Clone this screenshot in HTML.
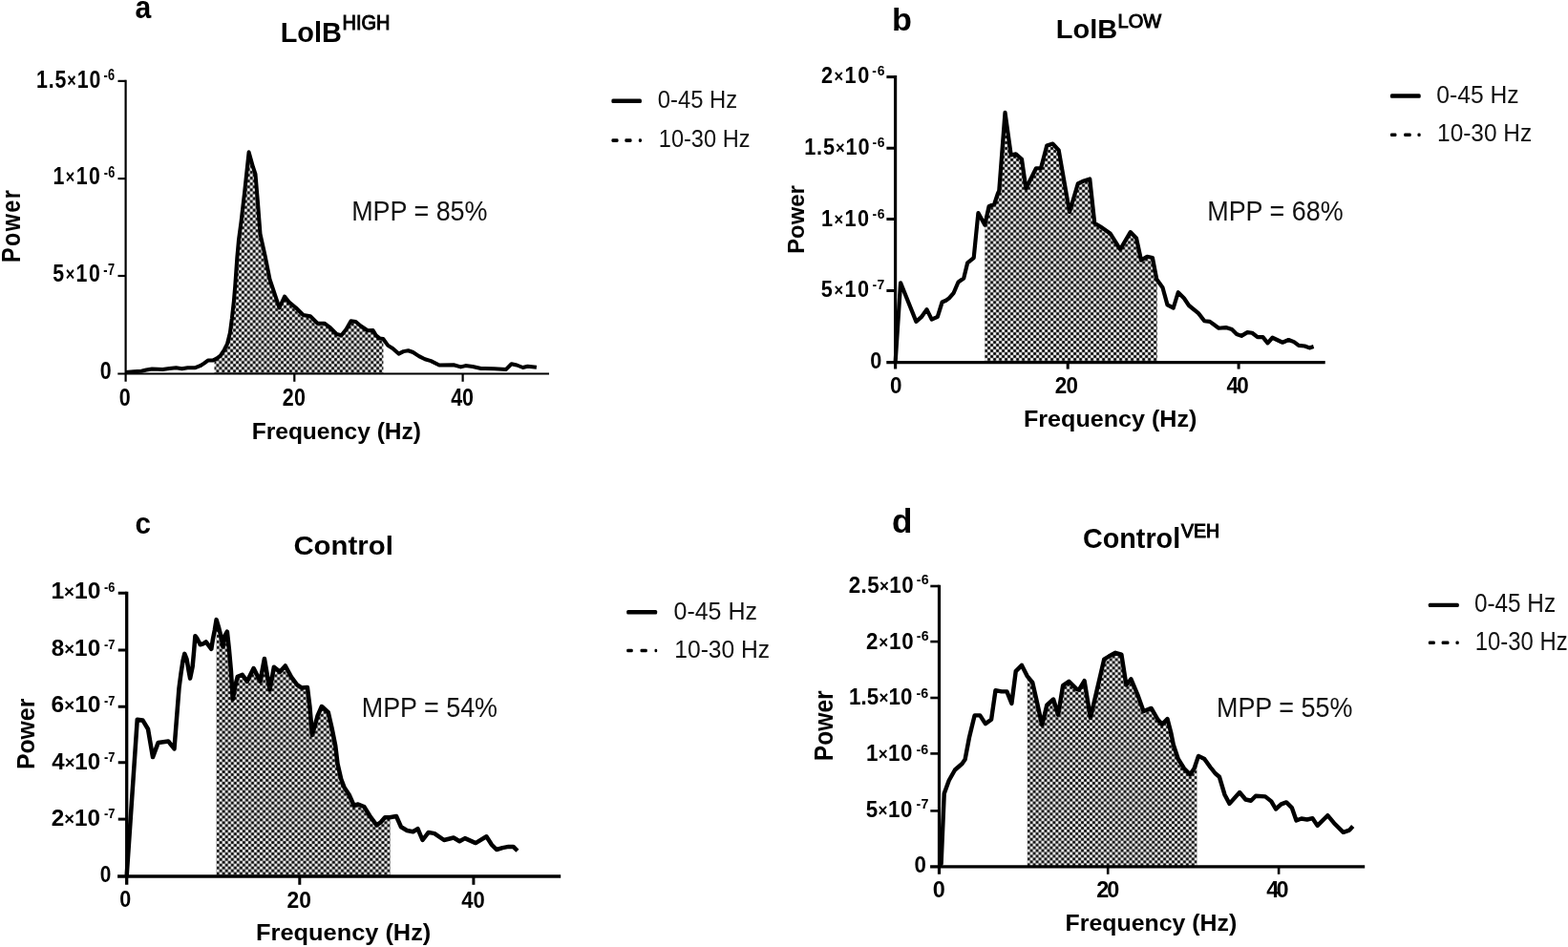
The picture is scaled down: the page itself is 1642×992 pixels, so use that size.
<!DOCTYPE html>
<html><head><meta charset="utf-8"><title>Power spectra</title>
<style>
html,body{margin:0;padding:0;background:#fff;}
body{width:1642px;height:992px;overflow:hidden;}
svg{display:block;}
text{font-family:"Liberation Sans",Arial,sans-serif;white-space:pre;}
</style></head><body>
<svg width="1642" height="992" viewBox="0 0 1642 992">
<defs>
<radialGradient id="gw"><stop offset="0" stop-color="#fff" stop-opacity="1"/><stop offset="0.45" stop-color="#fff" stop-opacity="0.95"/><stop offset="1" stop-color="#fff" stop-opacity="0"/></radialGradient>
<radialGradient id="gb"><stop offset="0" stop-color="#000" stop-opacity="1"/><stop offset="0.45" stop-color="#000" stop-opacity="0.95"/><stop offset="1" stop-color="#000" stop-opacity="0"/></radialGradient>
<pattern id="chka" patternUnits="userSpaceOnUse" x="299.979" y="362.768" width="5.884" height="6.128"><rect width="5.884" height="6.128" fill="#808080"/><ellipse cx="1.471" cy="1.532" rx="1.883" ry="1.961" fill="url(#gw)"/><ellipse cx="1.471" cy="7.660" rx="1.883" ry="1.961" fill="url(#gw)"/><ellipse cx="7.355" cy="1.532" rx="1.883" ry="1.961" fill="url(#gw)"/><ellipse cx="7.355" cy="7.660" rx="1.883" ry="1.961" fill="url(#gw)"/><ellipse cx="-1.471" cy="-1.532" rx="1.883" ry="1.961" fill="url(#gw)"/><ellipse cx="-1.471" cy="4.596" rx="1.883" ry="1.961" fill="url(#gw)"/><ellipse cx="4.413" cy="-1.532" rx="1.883" ry="1.961" fill="url(#gw)"/><ellipse cx="4.413" cy="4.596" rx="1.883" ry="1.961" fill="url(#gw)"/><ellipse cx="-1.471" cy="1.532" rx="1.883" ry="1.961" fill="url(#gb)"/><ellipse cx="-1.471" cy="7.660" rx="1.883" ry="1.961" fill="url(#gb)"/><ellipse cx="4.413" cy="1.532" rx="1.883" ry="1.961" fill="url(#gb)"/><ellipse cx="4.413" cy="7.660" rx="1.883" ry="1.961" fill="url(#gb)"/><ellipse cx="1.471" cy="-1.532" rx="1.883" ry="1.961" fill="url(#gb)"/><ellipse cx="1.471" cy="4.596" rx="1.883" ry="1.961" fill="url(#gb)"/><ellipse cx="7.355" cy="-1.532" rx="1.883" ry="1.961" fill="url(#gb)"/><ellipse cx="7.355" cy="4.596" rx="1.883" ry="1.961" fill="url(#gb)"/></pattern>
<pattern id="chkb" patternUnits="userSpaceOnUse" x="1100.100" y="300.307" width="6.000" height="5.972"><rect width="6.000" height="5.972" fill="#808080"/><ellipse cx="1.500" cy="1.493" rx="1.920" ry="1.911" fill="url(#gw)"/><ellipse cx="1.500" cy="7.465" rx="1.920" ry="1.911" fill="url(#gw)"/><ellipse cx="7.500" cy="1.493" rx="1.920" ry="1.911" fill="url(#gw)"/><ellipse cx="7.500" cy="7.465" rx="1.920" ry="1.911" fill="url(#gw)"/><ellipse cx="-1.500" cy="-1.493" rx="1.920" ry="1.911" fill="url(#gw)"/><ellipse cx="-1.500" cy="4.479" rx="1.920" ry="1.911" fill="url(#gw)"/><ellipse cx="4.500" cy="-1.493" rx="1.920" ry="1.911" fill="url(#gw)"/><ellipse cx="4.500" cy="4.479" rx="1.920" ry="1.911" fill="url(#gw)"/><ellipse cx="-1.500" cy="1.493" rx="1.920" ry="1.911" fill="url(#gb)"/><ellipse cx="-1.500" cy="7.465" rx="1.920" ry="1.911" fill="url(#gb)"/><ellipse cx="4.500" cy="1.493" rx="1.920" ry="1.911" fill="url(#gb)"/><ellipse cx="4.500" cy="7.465" rx="1.920" ry="1.911" fill="url(#gb)"/><ellipse cx="1.500" cy="-1.493" rx="1.920" ry="1.911" fill="url(#gb)"/><ellipse cx="1.500" cy="4.479" rx="1.920" ry="1.911" fill="url(#gb)"/><ellipse cx="7.500" cy="-1.493" rx="1.920" ry="1.911" fill="url(#gb)"/><ellipse cx="7.500" cy="4.479" rx="1.920" ry="1.911" fill="url(#gb)"/></pattern>
<pattern id="chkc" patternUnits="userSpaceOnUse" x="302.385" y="860.320" width="6.060" height="5.920"><rect width="6.060" height="5.920" fill="#808080"/><ellipse cx="1.515" cy="1.480" rx="1.939" ry="1.894" fill="url(#gw)"/><ellipse cx="1.515" cy="7.400" rx="1.939" ry="1.894" fill="url(#gw)"/><ellipse cx="7.575" cy="1.480" rx="1.939" ry="1.894" fill="url(#gw)"/><ellipse cx="7.575" cy="7.400" rx="1.939" ry="1.894" fill="url(#gw)"/><ellipse cx="-1.515" cy="-1.480" rx="1.939" ry="1.894" fill="url(#gw)"/><ellipse cx="-1.515" cy="4.440" rx="1.939" ry="1.894" fill="url(#gw)"/><ellipse cx="4.545" cy="-1.480" rx="1.939" ry="1.894" fill="url(#gw)"/><ellipse cx="4.545" cy="4.440" rx="1.939" ry="1.894" fill="url(#gw)"/><ellipse cx="-1.515" cy="1.480" rx="1.939" ry="1.894" fill="url(#gb)"/><ellipse cx="-1.515" cy="7.400" rx="1.939" ry="1.894" fill="url(#gb)"/><ellipse cx="4.545" cy="1.480" rx="1.939" ry="1.894" fill="url(#gb)"/><ellipse cx="4.545" cy="7.400" rx="1.939" ry="1.894" fill="url(#gb)"/><ellipse cx="1.515" cy="-1.480" rx="1.939" ry="1.894" fill="url(#gb)"/><ellipse cx="1.515" cy="4.440" rx="1.939" ry="1.894" fill="url(#gb)"/><ellipse cx="7.575" cy="-1.480" rx="1.939" ry="1.894" fill="url(#gb)"/><ellipse cx="7.575" cy="4.440" rx="1.939" ry="1.894" fill="url(#gb)"/></pattern>
<pattern id="chkd" patternUnits="userSpaceOnUse" x="1152.816" y="860.129" width="5.936" height="5.884"><rect width="5.936" height="5.884" fill="#808080"/><ellipse cx="1.484" cy="1.471" rx="1.900" ry="1.883" fill="url(#gw)"/><ellipse cx="1.484" cy="7.355" rx="1.900" ry="1.883" fill="url(#gw)"/><ellipse cx="7.420" cy="1.471" rx="1.900" ry="1.883" fill="url(#gw)"/><ellipse cx="7.420" cy="7.355" rx="1.900" ry="1.883" fill="url(#gw)"/><ellipse cx="-1.484" cy="-1.471" rx="1.900" ry="1.883" fill="url(#gw)"/><ellipse cx="-1.484" cy="4.413" rx="1.900" ry="1.883" fill="url(#gw)"/><ellipse cx="4.452" cy="-1.471" rx="1.900" ry="1.883" fill="url(#gw)"/><ellipse cx="4.452" cy="4.413" rx="1.900" ry="1.883" fill="url(#gw)"/><ellipse cx="-1.484" cy="1.471" rx="1.900" ry="1.883" fill="url(#gb)"/><ellipse cx="-1.484" cy="7.355" rx="1.900" ry="1.883" fill="url(#gb)"/><ellipse cx="4.452" cy="1.471" rx="1.900" ry="1.883" fill="url(#gb)"/><ellipse cx="4.452" cy="7.355" rx="1.900" ry="1.883" fill="url(#gb)"/><ellipse cx="1.484" cy="-1.471" rx="1.900" ry="1.883" fill="url(#gb)"/><ellipse cx="1.484" cy="4.413" rx="1.900" ry="1.883" fill="url(#gb)"/><ellipse cx="7.420" cy="-1.471" rx="1.900" ry="1.883" fill="url(#gb)"/><ellipse cx="7.420" cy="4.413" rx="1.900" ry="1.883" fill="url(#gb)"/></pattern>
<clipPath id="clipa"><rect x="224.5" y="0" width="176.9" height="391.5"/></clipPath>
<clipPath id="clipb"><rect x="1031.25" y="0" width="180.65" height="379.6"/></clipPath>
<clipPath id="clipc"><rect x="226.6" y="0" width="182.1" height="918"/></clipPath>
<clipPath id="clipd"><rect x="1075.8" y="0" width="177.7" height="907.8"/></clipPath>
<filter id="pblur" x="-2%" y="-2%" width="104%" height="104%"><feGaussianBlur stdDeviation="0.75"/></filter>
</defs>
<rect width="1642" height="992" fill="#fff"/>
<polygon points="131.6,390 140.1,389.2 148.1,388.7 153.2,387.5 159.2,386.5 165.3,386.7 170.3,386.9 177.4,385.9 184.4,385.2 190.5,386.2 196.5,385.2 204.6,385.2 209.6,383.2 213.7,380.6 217.7,377.6 222.7,377.6 226.8,375.6 230.8,372.6 234.8,366.5 237.9,360.5 240.9,348.4 242.9,333.3 244.9,315.1 246.2,300 248.3,270 250,251 252.5,232.5 256.25,200 260.6,159.2 265,175 267.5,182.5 270,212.5 272.5,245 277.5,267.5 282.5,292.5 287.5,307.5 292.5,322.5 298,310.5 302.5,316.25 310,322.5 317.5,330 325,331.25 332.5,338.75 340,338.75 345,342.5 352.5,350 357.5,351.25 362.5,345 367.5,336.25 372.5,337 377.5,341.25 385,346.25 390.6,346 393.75,351.25 397.5,354.4 401.25,355 406.25,361.9 411.25,365 417.5,370.6 422.5,368.1 427.5,367.25 432.5,369 438.75,373.1 445,376.25 451.25,378.1 460,382.5 475,382.25 482.5,384.4 487.5,383.1 495,384 503.75,386 517.5,386.25 530,386.9 535.6,381.25 541.25,382.5 547.5,385 552.5,383.75 561.9,384.75 561.9,391.5 131.6,391.5" fill="url(#chka)" clip-path="url(#clipa)"/>
<g stroke="#000" fill="none" stroke-linecap="butt">
<line x1="131.6" y1="83.8" x2="131.6" y2="399.8" stroke-width="2.2"/>
<line x1="123.3" y1="391.5" x2="575" y2="391.5" stroke-width="2.2"/>
<line x1="123.5" y1="84.9" x2="131.6" y2="84.9" stroke-width="2.2"/>
<line x1="123.5" y1="187.1" x2="131.6" y2="187.1" stroke-width="2.2"/>
<line x1="123.5" y1="289" x2="131.6" y2="289" stroke-width="2.2"/>
<line x1="308.3" y1="391.5" x2="308.3" y2="399.8" stroke-width="2.2"/>
<line x1="484.6" y1="391.5" x2="484.6" y2="399.8" stroke-width="2.2"/>
</g>
<polyline points="131.6,390 140.1,389.2 148.1,388.7 153.2,387.5 159.2,386.5 165.3,386.7 170.3,386.9 177.4,385.9 184.4,385.2 190.5,386.2 196.5,385.2 204.6,385.2 209.6,383.2 213.7,380.6 217.7,377.6 222.7,377.6 226.8,375.6 230.8,372.6 234.8,366.5 237.9,360.5 240.9,348.4 242.9,333.3 244.9,315.1 246.2,300 248.3,270 250,251 252.5,232.5 256.25,200 260.6,159.2 265,175 267.5,182.5 270,212.5 272.5,245 277.5,267.5 282.5,292.5 287.5,307.5 292.5,322.5 298,310.5 302.5,316.25 310,322.5 317.5,330 325,331.25 332.5,338.75 340,338.75 345,342.5 352.5,350 357.5,351.25 362.5,345 367.5,336.25 372.5,337 377.5,341.25 385,346.25 390.6,346 393.75,351.25 397.5,354.4 401.25,355 406.25,361.9 411.25,365 417.5,370.6 422.5,368.1 427.5,367.25 432.5,369 438.75,373.1 445,376.25 451.25,378.1 460,382.5 475,382.25 482.5,384.4 487.5,383.1 495,384 503.75,386 517.5,386.25 530,386.9 535.6,381.25 541.25,382.5 547.5,385 552.5,383.75 561.9,384.75" fill="none" stroke="#000" stroke-width="4.0" stroke-linejoin="round"/>
<polygon points="937.6,379.5 943.1,296.25 959.4,336.9 964.8,332.2 970.5,324.1 975.7,334.6 981.8,331.8 986.6,316.5 990.6,314.8 993.9,312.4 998.7,306.8 1003.5,295.5 1009.2,291.5 1013.2,275.3 1019.7,270.1 1024.4,223.1 1031.25,235.6 1035.6,216.25 1041.25,213.75 1045,202.5 1046.25,200 1052.5,117.8 1058.75,162.5 1063.75,161.25 1070,166.9 1074.4,197.5 1085,176.25 1090,176.25 1096.25,152.5 1102.5,150.6 1108.75,157.5 1120,222 1128.75,192.5 1135,189.4 1141.25,187.5 1146.25,233.75 1152.5,237.5 1162.5,244.4 1173.1,261.25 1183.75,243.1 1190,249.4 1195,272.5 1201.25,268.75 1206.9,270 1211.25,292.5 1217.5,301.25 1222.5,319.4 1228.75,322.5 1233.75,306.25 1240,312.5 1245,320 1255,328.1 1261.25,336.25 1266.9,336.9 1276.25,343.75 1283.75,343.1 1290,345 1295,350 1300,351.9 1306.25,348.1 1311.25,348.75 1316.9,353.1 1322.5,353.1 1327.5,359.4 1332.5,353.75 1343.1,358.75 1349.4,356 1355,358.1 1360,361.9 1366.25,362.5 1371.25,364.4 1375.6,363.1 1375.6,379.6 937.6,379.6" fill="url(#chkb)" clip-path="url(#clipb)"/>
<g stroke="#000" fill="none" stroke-linecap="butt">
<line x1="937.6" y1="79.1" x2="937.6" y2="386.6" stroke-width="3.2"/>
<line x1="928.3" y1="379.6" x2="1387.7" y2="379.6" stroke-width="3.2"/>
<line x1="928.4" y1="80.6" x2="937.6" y2="80.6" stroke-width="3.0"/>
<line x1="928.4" y1="155.2" x2="937.6" y2="155.2" stroke-width="3.0"/>
<line x1="928.4" y1="229.5" x2="937.6" y2="229.5" stroke-width="3.0"/>
<line x1="928.4" y1="304.5" x2="937.6" y2="304.5" stroke-width="3.0"/>
<line x1="1118.2" y1="379.6" x2="1118.2" y2="386.6" stroke-width="3.0"/>
<line x1="1297.1" y1="379.6" x2="1297.1" y2="386.6" stroke-width="3.0"/>
</g>
<polyline points="937.6,379.5 943.1,296.25 959.4,336.9 964.8,332.2 970.5,324.1 975.7,334.6 981.8,331.8 986.6,316.5 990.6,314.8 993.9,312.4 998.7,306.8 1003.5,295.5 1009.2,291.5 1013.2,275.3 1019.7,270.1 1024.4,223.1 1031.25,235.6 1035.6,216.25 1041.25,213.75 1045,202.5 1046.25,200 1052.5,117.8 1058.75,162.5 1063.75,161.25 1070,166.9 1074.4,197.5 1085,176.25 1090,176.25 1096.25,152.5 1102.5,150.6 1108.75,157.5 1120,222 1128.75,192.5 1135,189.4 1141.25,187.5 1146.25,233.75 1152.5,237.5 1162.5,244.4 1173.1,261.25 1183.75,243.1 1190,249.4 1195,272.5 1201.25,268.75 1206.9,270 1211.25,292.5 1217.5,301.25 1222.5,319.4 1228.75,322.5 1233.75,306.25 1240,312.5 1245,320 1255,328.1 1261.25,336.25 1266.9,336.9 1276.25,343.75 1283.75,343.1 1290,345 1295,350 1300,351.9 1306.25,348.1 1311.25,348.75 1316.9,353.1 1322.5,353.1 1327.5,359.4 1332.5,353.75 1343.1,358.75 1349.4,356 1355,358.1 1360,361.9 1366.25,362.5 1371.25,364.4 1375.6,363.1" fill="none" stroke="#000" stroke-width="4.2" stroke-linejoin="round"/>
<polygon points="132.7,917 143.75,753.75 149.4,754.4 155,763.75 160,793.1 165.6,778.1 176.25,776.5 182.5,784.4 186,739.8 187.5,720.7 189.5,705.5 191.5,692.4 193.3,684.9 195.5,690.4 197.6,702.5 199.1,710.6 201.6,698.5 203.1,682.4 204.4,666.2 206.6,669.2 209.7,675.3 212.7,674.3 215.7,672.3 218.7,676.3 221.3,679.8 222.8,670.3 224.8,660.2 226.6,649.1 229.3,658.2 231.3,666.2 233.4,677.3 235.4,666.2 237.9,661.7 239.9,680.3 241.9,702.5 243.75,732.5 246.25,718.75 248.75,708.75 253.75,706.9 258.75,713.75 265.6,700 272.5,713.75 276.9,690 282.5,722.5 286.9,698.75 293.1,703.75 298.75,697.5 305,709 311.25,717.5 316.25,720.6 321.9,720 324.4,740 326.9,770 332.5,750 336.9,740 343.75,746.25 347.5,762.5 351.25,781.25 353.5,800 357.2,816 360.6,825 365.6,832.5 370.6,843.75 375,842.5 381.25,845 387.5,855 394.4,864.4 398.75,861.25 403.1,856.25 408.1,856.25 415,855 420,866.25 426.25,870 432.5,871.25 437.5,868.1 442.5,880 448.75,871.9 455,873.1 465,880 475,877.5 481.25,881.25 486.9,878.1 498.1,883.1 509.4,876.25 515,885 520,890 526.25,888.1 532.5,886.9 537.5,886.9 541.9,891.25 541.9,918 132.7,918" fill="url(#chkc)" clip-path="url(#clipc)"/>
<g stroke="#000" fill="none" stroke-linecap="butt">
<line x1="132.7" y1="619.75" x2="132.7" y2="926.8" stroke-width="3.3"/>
<line x1="123.1" y1="918" x2="587.2" y2="918" stroke-width="3.3"/>
<line x1="123.75" y1="621.25" x2="132.7" y2="621.25" stroke-width="3.0"/>
<line x1="123.75" y1="681" x2="132.7" y2="681" stroke-width="3.0"/>
<line x1="123.75" y1="740.25" x2="132.7" y2="740.25" stroke-width="3.0"/>
<line x1="123.75" y1="798.75" x2="132.7" y2="798.75" stroke-width="3.0"/>
<line x1="123.75" y1="858.1" x2="132.7" y2="858.1" stroke-width="3.0"/>
<line x1="313.8" y1="918" x2="313.8" y2="926.8" stroke-width="3.0"/>
<line x1="495.9" y1="918" x2="495.9" y2="926.8" stroke-width="3.0"/>
</g>
<polyline points="132.7,917 143.75,753.75 149.4,754.4 155,763.75 160,793.1 165.6,778.1 176.25,776.5 182.5,784.4 186,739.8 187.5,720.7 189.5,705.5 191.5,692.4 193.3,684.9 195.5,690.4 197.6,702.5 199.1,710.6 201.6,698.5 203.1,682.4 204.4,666.2 206.6,669.2 209.7,675.3 212.7,674.3 215.7,672.3 218.7,676.3 221.3,679.8 222.8,670.3 224.8,660.2 226.6,649.1 229.3,658.2 231.3,666.2 233.4,677.3 235.4,666.2 237.9,661.7 239.9,680.3 241.9,702.5 243.75,732.5 246.25,718.75 248.75,708.75 253.75,706.9 258.75,713.75 265.6,700 272.5,713.75 276.9,690 282.5,722.5 286.9,698.75 293.1,703.75 298.75,697.5 305,709 311.25,717.5 316.25,720.6 321.9,720 324.4,740 326.9,770 332.5,750 336.9,740 343.75,746.25 347.5,762.5 351.25,781.25 353.5,800 357.2,816 360.6,825 365.6,832.5 370.6,843.75 375,842.5 381.25,845 387.5,855 394.4,864.4 398.75,861.25 403.1,856.25 408.1,856.25 415,855 420,866.25 426.25,870 432.5,871.25 437.5,868.1 442.5,880 448.75,871.9 455,873.1 465,880 475,877.5 481.25,881.25 486.9,878.1 498.1,883.1 509.4,876.25 515,885 520,890 526.25,888.1 532.5,886.9 537.5,886.9 541.9,891.25" fill="none" stroke="#000" stroke-width="4.5" stroke-linejoin="round"/>
<polygon points="983.5,907 985.6,905 988.75,831.25 993.75,817.5 1000,806.5 1007.5,800 1010.6,795.6 1015,772.5 1020.6,749.4 1026.25,749.4 1031.9,758.1 1038.1,753.75 1042.5,723.1 1048.75,724.4 1054.4,724.4 1059.4,736.9 1063.75,703.1 1070,696.9 1075.6,708.1 1081.25,715 1085,731.25 1091.25,759.4 1096.25,738.75 1103.1,732.5 1108.1,748.75 1113.1,718.1 1119.4,713.75 1127.5,721.9 1130,722.5 1135.6,713.1 1141.9,751.9 1156.25,690.6 1161.25,687.5 1168.1,683.75 1174.4,685.6 1179.4,717.5 1184.4,711.25 1191.25,727.5 1197.5,745 1205.6,741.9 1212.5,753.75 1216.9,758.75 1222.5,753.1 1226.25,767.5 1228.75,780 1233.75,795 1240,805 1246.25,811.25 1250.6,805 1255,791.9 1261.25,795 1267.5,803.75 1272.5,810 1276.9,813.75 1282.5,832.5 1287.5,841.9 1298.1,830 1304.4,837.5 1310,838.75 1315,833.75 1325,834.4 1331.25,839.4 1336,847.5 1341.7,842.4 1347.1,840.4 1352.8,846.1 1357.5,859.5 1362.8,857.5 1368.8,858.5 1374.5,857.2 1379.6,864.9 1390.3,854.2 1397,862.2 1406.7,871.9 1413.1,869.6 1416.7,865.5 1416.7,907.8 983.5,907.8" fill="url(#chkd)" clip-path="url(#clipd)"/>
<g stroke="#000" fill="none" stroke-linecap="butt">
<line x1="983.5" y1="612.7" x2="983.5" y2="915.8" stroke-width="3.2"/>
<line x1="974.1" y1="907.8" x2="1429.2" y2="907.8" stroke-width="3.2"/>
<line x1="974.3" y1="614" x2="983.5" y2="614" stroke-width="2.6"/>
<line x1="974.3" y1="672.1" x2="983.5" y2="672.1" stroke-width="2.6"/>
<line x1="974.3" y1="731" x2="983.5" y2="731" stroke-width="2.6"/>
<line x1="974.3" y1="789.4" x2="983.5" y2="789.4" stroke-width="2.6"/>
<line x1="974.3" y1="849.4" x2="983.5" y2="849.4" stroke-width="2.6"/>
<line x1="1160.2" y1="907.8" x2="1160.2" y2="915.8" stroke-width="2.6"/>
<line x1="1339.1" y1="907.8" x2="1339.1" y2="915.8" stroke-width="2.6"/>
</g>
<polyline points="983.5,907 985.6,905 988.75,831.25 993.75,817.5 1000,806.5 1007.5,800 1010.6,795.6 1015,772.5 1020.6,749.4 1026.25,749.4 1031.9,758.1 1038.1,753.75 1042.5,723.1 1048.75,724.4 1054.4,724.4 1059.4,736.9 1063.75,703.1 1070,696.9 1075.6,708.1 1081.25,715 1085,731.25 1091.25,759.4 1096.25,738.75 1103.1,732.5 1108.1,748.75 1113.1,718.1 1119.4,713.75 1127.5,721.9 1130,722.5 1135.6,713.1 1141.9,751.9 1156.25,690.6 1161.25,687.5 1168.1,683.75 1174.4,685.6 1179.4,717.5 1184.4,711.25 1191.25,727.5 1197.5,745 1205.6,741.9 1212.5,753.75 1216.9,758.75 1222.5,753.1 1226.25,767.5 1228.75,780 1233.75,795 1240,805 1246.25,811.25 1250.6,805 1255,791.9 1261.25,795 1267.5,803.75 1272.5,810 1276.9,813.75 1282.5,832.5 1287.5,841.9 1298.1,830 1304.4,837.5 1310,838.75 1315,833.75 1325,834.4 1331.25,839.4 1336,847.5 1341.7,842.4 1347.1,840.4 1352.8,846.1 1357.5,859.5 1362.8,857.5 1368.8,858.5 1374.5,857.2 1379.6,864.9 1390.3,854.2 1397,862.2 1406.7,871.9 1413.1,869.6 1416.7,865.5" fill="none" stroke="#000" stroke-width="4.4" stroke-linejoin="round"/>
<rect x="640.4" y="103.6" width="31.5" height="4.4" rx="1.5" fill="#000"/>
<rect x="640.4" y="145.3" width="7.2" height="3.6" rx="1.4" fill="#000"/>
<rect x="654.3" y="145.3" width="7.3" height="3.6" rx="1.4" fill="#000"/>
<rect x="668.8" y="145.3" width="3.2" height="3.6" rx="1.4" fill="#000"/>
<rect x="1455.9" y="98.3" width="31.8" height="4.4" rx="1.5" fill="#000"/>
<rect x="1455.9" y="139.5" width="6.6" height="3.6" rx="1.4" fill="#000"/>
<rect x="1470.1" y="139.5" width="7.7" height="3.6" rx="1.4" fill="#000"/>
<rect x="1484.4" y="139.5" width="3.3" height="3.6" rx="1.4" fill="#000"/>
<rect x="656.2" y="639.1" width="32" height="4.4" rx="1.5" fill="#000"/>
<rect x="656.2" y="679.7" width="6.6" height="3.6" rx="1.4" fill="#000"/>
<rect x="670.5" y="679.7" width="7.3" height="3.6" rx="1.4" fill="#000"/>
<rect x="685.5" y="679.7" width="2.7" height="3.6" rx="1.4" fill="#000"/>
<rect x="1495.8" y="631.7" width="32" height="4.4" rx="1.5" fill="#000"/>
<rect x="1495.8" y="671.5" width="7.1" height="3.6" rx="1.4" fill="#000"/>
<rect x="1509.6" y="671.5" width="7.9" height="3.6" rx="1.4" fill="#000"/>
<rect x="1524.4" y="671.5" width="3.4" height="3.6" rx="1.4" fill="#000"/>
<text id="a_lbl" transform="translate(141.4 19)" font-size="33.33" font-weight="bold" textLength="16.73" lengthAdjust="spacingAndGlyphs">a</text>
<text id="a_t1" transform="translate(293.66 44)" font-size="30.01" font-weight="bold" textLength="64.21" lengthAdjust="spacingAndGlyphs">LolB</text>
<text id="a_t2" transform="translate(358.52 31.45)" font-size="22.35" stroke="#000" stroke-width="1.0" textLength="50.01" lengthAdjust="spacingAndGlyphs">HIGH</text>
<text id="a_y1" transform="translate(38 92) scale(0.82 1)" font-size="26.02" font-weight="bold" textLength="82.02" lengthAdjust="spacing">1.5<tspan font-size="76%" dy="-1.1">×</tspan><tspan dy="1.1">10</tspan></text>
<text id="a_y1e" transform="translate(108.47 84.4) scale(0.82 1)" font-size="15.57" font-weight="bold" textLength="14.27" lengthAdjust="spacing">-6</text>
<text id="a_y2" transform="translate(55.44 193.4) scale(0.82 1)" font-size="26.02" font-weight="bold" textLength="60.29" lengthAdjust="spacing">1<tspan font-size="76%" dy="-1.1">×</tspan><tspan dy="1.1">10</tspan></text>
<text id="a_y2e" transform="translate(108.67 186) scale(0.82 1)" font-size="15.57" font-weight="bold" textLength="14.14" lengthAdjust="spacing">-6</text>
<text id="a_y3" transform="translate(55.28 295.2) scale(0.82 1)" font-size="26.02" font-weight="bold" textLength="60.43" lengthAdjust="spacing">5<tspan font-size="76%" dy="-1.1">×</tspan><tspan dy="1.1">10</tspan></text>
<text id="a_y3e" transform="translate(108.23 288) scale(0.82 1)" font-size="15.57" font-weight="bold" textLength="14.56" lengthAdjust="spacing">-7</text>
<text id="a_y4" transform="translate(104.84 397.2) scale(0.82 1)" font-size="26.02" font-weight="bold" textLength="22.27" lengthAdjust="spacing">0</text>
<text id="a_x0" transform="translate(124.85 424.6) scale(0.82 1)" font-size="26.18" font-weight="bold" textLength="17.06" lengthAdjust="spacing">0</text>
<text id="a_x20" transform="translate(295.7 425) scale(0.82 1)" font-size="26.18" font-weight="bold" textLength="29.51" lengthAdjust="spacing">20</text>
<text id="a_x40" transform="translate(472.13 425) scale(0.82 1)" font-size="26.18" font-weight="bold" textLength="29.16" lengthAdjust="spacing">40</text>
<text id="a_xl" transform="translate(263.68 460.05)" font-size="23.62" font-weight="bold" textLength="177.32" lengthAdjust="spacingAndGlyphs">Frequency (Hz)</text>
<text id="a_yl" transform="translate(21 274.98) rotate(-90) scale(0.85 1)" font-size="27.48" font-weight="bold" textLength="89.18" lengthAdjust="spacing">Power</text>
<text id="a_mpp" transform="translate(368.14 231.4)" font-size="29.87" fill="#111" textLength="142.36" lengthAdjust="spacingAndGlyphs">MPP = 85%</text>
<text id="a_lg1" transform="translate(688.77 113.2)" font-size="26.43" fill="#111" textLength="83.26" lengthAdjust="spacingAndGlyphs">0-45 Hz</text>
<text id="a_lg2" transform="translate(689.8 154.4)" font-size="26.43" fill="#111" textLength="95.67" lengthAdjust="spacingAndGlyphs">10-30 Hz</text>
<text id="b_lbl" transform="translate(934 32)" font-size="33.92" font-weight="bold" textLength="20.91" lengthAdjust="spacingAndGlyphs">b</text>
<text id="b_t1" transform="translate(1105.8 40)" font-size="28.56" font-weight="bold" textLength="64.47" lengthAdjust="spacingAndGlyphs">LolB</text>
<text id="b_t2" transform="translate(1170.51 28.85)" font-size="20.09" stroke="#000" stroke-width="1.0" textLength="45.59" lengthAdjust="spacingAndGlyphs">LOW</text>
<text id="b_y1" transform="translate(859.99 87) scale(0.92 1)" font-size="23.61" font-weight="bold" textLength="54.61" lengthAdjust="spacing">2<tspan font-size="76%" dy="-1.1">×</tspan><tspan dy="1.1">10</tspan></text>
<text id="b_y1e" transform="translate(913.35 79) scale(0.92 1)" font-size="15.17" font-weight="bold" textLength="14.22" lengthAdjust="spacing">-6</text>
<text id="b_y2" transform="translate(842.16 162) scale(0.92 1)" font-size="23.61" font-weight="bold" textLength="74.37" lengthAdjust="spacing">1.5<tspan font-size="76%" dy="-1.1">×</tspan><tspan dy="1.1">10</tspan></text>
<text id="b_y2e" transform="translate(913.52 154) scale(0.92 1)" font-size="15.17" font-weight="bold" textLength="14.09" lengthAdjust="spacing">-6</text>
<text id="b_y3" transform="translate(860 237) scale(0.92 1)" font-size="23.61" font-weight="bold" textLength="54.56" lengthAdjust="spacing">1<tspan font-size="76%" dy="-1.1">×</tspan><tspan dy="1.1">10</tspan></text>
<text id="b_y3e" transform="translate(913.43 229) scale(0.92 1)" font-size="15.17" font-weight="bold" textLength="14.22" lengthAdjust="spacing">-6</text>
<text id="b_y4" transform="translate(859.84 311) scale(0.92 1)" font-size="23.61" font-weight="bold" textLength="54.65" lengthAdjust="spacing">5<tspan font-size="76%" dy="-1.1">×</tspan><tspan dy="1.1">10</tspan></text>
<text id="b_y4e" transform="translate(913.43 303) scale(0.92 1)" font-size="15.17" font-weight="bold" textLength="14.01" lengthAdjust="spacing">-7</text>
<text id="b_y5" transform="translate(911.35 386) scale(0.92 1)" font-size="23.61" font-weight="bold" textLength="28.62" lengthAdjust="spacing">0</text>
<text id="b_x0" transform="translate(931.88 412) scale(0.92 1)" font-size="24.43" font-weight="bold" textLength="4.23" lengthAdjust="spacing">0</text>
<text id="b_x20" transform="translate(1104.77 412) scale(0.92 1)" font-size="24.43" font-weight="bold" textLength="26.38" lengthAdjust="spacing">20</text>
<text id="b_x40" transform="translate(1284.62 412) scale(0.92 1)" font-size="24.43" font-weight="bold" textLength="25.11" lengthAdjust="spacing">40</text>
<text id="b_xl" transform="translate(1071.94 447.09)" font-size="23" font-weight="bold" textLength="181.48" lengthAdjust="spacingAndGlyphs">Frequency (Hz)</text>
<text id="b_yl" transform="translate(842 265.78) rotate(-90)" font-size="24.36" font-weight="bold" textLength="71.55" lengthAdjust="spacingAndGlyphs">Power</text>
<text id="b_mpp" transform="translate(1264.2 231)" font-size="28.79" fill="#111" textLength="142.43" lengthAdjust="spacingAndGlyphs">MPP = 68%</text>
<text id="b_lg1" transform="translate(1504.32 108.2)" font-size="26.48" fill="#111" textLength="86.22" lengthAdjust="spacingAndGlyphs">0-45 Hz</text>
<text id="b_lg2" transform="translate(1505.07 148.2)" font-size="26.48" fill="#111" textLength="99.06" lengthAdjust="spacingAndGlyphs">10-30 Hz</text>
<text id="c_lbl" transform="translate(141.43 559)" font-size="31.48" font-weight="bold" textLength="16.51" lengthAdjust="spacingAndGlyphs">c</text>
<text id="c_t1" transform="translate(307.41 581)" font-size="28" font-weight="bold" textLength="104.39" lengthAdjust="spacingAndGlyphs">Control</text>
<text id="c_y1" transform="translate(53.4 627.49)" font-size="23.3" font-weight="bold" textLength="52.05" lengthAdjust="spacingAndGlyphs">1<tspan font-size="76%" dy="-1.1">×</tspan><tspan dy="1.1">10</tspan></text>
<text id="c_y1e" transform="translate(109.04 619.62)" font-size="15.18" font-weight="bold" textLength="11.45" lengthAdjust="spacingAndGlyphs">-6</text>
<text id="c_y2" transform="translate(53.79 687.49)" font-size="23.3" font-weight="bold" textLength="51.4" lengthAdjust="spacingAndGlyphs">8<tspan font-size="76%" dy="-1.1">×</tspan><tspan dy="1.1">10</tspan></text>
<text id="c_y2e" transform="translate(108.98 679.69)" font-size="15.18" font-weight="bold" textLength="11.55" lengthAdjust="spacingAndGlyphs">-7</text>
<text id="c_y3" transform="translate(53.59 746.09)" font-size="23.3" font-weight="bold" textLength="51.97" lengthAdjust="spacingAndGlyphs">6<tspan font-size="76%" dy="-1.1">×</tspan><tspan dy="1.1">10</tspan></text>
<text id="c_y3e" transform="translate(109.03 738.89)" font-size="15.18" font-weight="bold" textLength="11.5" lengthAdjust="spacingAndGlyphs">-7</text>
<text id="c_y4" transform="translate(54.25 806.09)" font-size="23.3" font-weight="bold" textLength="50.93" lengthAdjust="spacingAndGlyphs">4<tspan font-size="76%" dy="-1.1">×</tspan><tspan dy="1.1">10</tspan></text>
<text id="c_y4e" transform="translate(109.04 797.69)" font-size="15.18" font-weight="bold" textLength="11.55" lengthAdjust="spacingAndGlyphs">-7</text>
<text id="c_y5" transform="translate(53.73 864.89)" font-size="23.3" font-weight="bold" textLength="51.42" lengthAdjust="spacingAndGlyphs">2<tspan font-size="76%" dy="-1.1">×</tspan><tspan dy="1.1">10</tspan></text>
<text id="c_y5e" transform="translate(109.04 857.49)" font-size="15.18" font-weight="bold" textLength="11.55" lengthAdjust="spacingAndGlyphs">-7</text>
<text id="c_y6" transform="translate(104.7 923.88)" font-size="23.3" font-weight="bold" textLength="11.59" lengthAdjust="spacingAndGlyphs">0</text>
<text id="c_x0" transform="translate(125.35 950.42)" font-size="23.1" font-weight="bold" textLength="11.98" lengthAdjust="spacingAndGlyphs">0</text>
<text id="c_x20" transform="translate(300.61 950.69)" font-size="23.1" font-weight="bold" textLength="25.36" lengthAdjust="spacingAndGlyphs">20</text>
<text id="c_x40" transform="translate(483.15 950.69)" font-size="23.1" font-weight="bold" textLength="24.46" lengthAdjust="spacingAndGlyphs">40</text>
<text id="c_xl" transform="translate(268.1 985.29)" font-size="23.3" font-weight="bold" textLength="183.17" lengthAdjust="spacingAndGlyphs">Frequency (Hz)</text>
<text id="c_yl" transform="translate(35.6 806) rotate(-90)" font-size="25.86" font-weight="bold" textLength="74.26" lengthAdjust="spacingAndGlyphs">Power</text>
<text id="c_mpp" transform="translate(378.75 751)" font-size="28.79" fill="#111" textLength="142.27" lengthAdjust="spacingAndGlyphs">MPP = 54%</text>
<text id="c_lg1" transform="translate(705.52 649)" font-size="26.02" fill="#111" textLength="87.47" lengthAdjust="spacingAndGlyphs">0-45 Hz</text>
<text id="c_lg2" transform="translate(706.25 689)" font-size="26.02" fill="#111" textLength="99.87" lengthAdjust="spacingAndGlyphs">10-30 Hz</text>
<text id="d_lbl" transform="translate(934 558.2)" font-size="35.11" font-weight="bold" textLength="21.46" lengthAdjust="spacingAndGlyphs">d</text>
<text id="d_t1" transform="translate(1134 574)" font-size="29.63" font-weight="bold" textLength="102.15" lengthAdjust="spacingAndGlyphs">Control</text>
<text id="d_t2" transform="translate(1236.88 562.65)" font-size="19.75" stroke="#000" stroke-width="1.0" textLength="40.1" lengthAdjust="spacingAndGlyphs">VEH</text>
<text id="d_y1" transform="translate(888.78 621) scale(0.96 1)" font-size="23.28" font-weight="bold" textLength="70.65" lengthAdjust="spacing">2.5<tspan font-size="76%" dy="-1.1">×</tspan><tspan dy="1.1">10</tspan></text>
<text id="d_y1e" transform="translate(959.63 612) scale(0.96 1)" font-size="14.86" font-weight="bold" textLength="13.59" lengthAdjust="spacing">-6</text>
<text id="d_y2" transform="translate(907.02 680) scale(0.96 1)" font-size="23.28" font-weight="bold" textLength="51.77" lengthAdjust="spacing">2<tspan font-size="76%" dy="-1.1">×</tspan><tspan dy="1.1">10</tspan></text>
<text id="d_y2e" transform="translate(959.63 671) scale(0.96 1)" font-size="14.86" font-weight="bold" textLength="13.59" lengthAdjust="spacing">-6</text>
<text id="d_y3" transform="translate(889 738) scale(0.96 1)" font-size="23.28" font-weight="bold" textLength="69.2" lengthAdjust="spacing">1.5<tspan font-size="76%" dy="-1.1">×</tspan><tspan dy="1.1">10</tspan></text>
<text id="d_y3e" transform="translate(959.52 730.6) scale(0.96 1)" font-size="14.86" font-weight="bold" textLength="13.15" lengthAdjust="spacing">-6</text>
<text id="d_y4" transform="translate(906.95 797) scale(0.96 1)" font-size="23.28" font-weight="bold" textLength="50.46" lengthAdjust="spacing">1<tspan font-size="76%" dy="-1.1">×</tspan><tspan dy="1.1">10</tspan></text>
<text id="d_y4e" transform="translate(959.44 790) scale(0.96 1)" font-size="14.86" font-weight="bold" textLength="13.25" lengthAdjust="spacing">-6</text>
<text id="d_y5" transform="translate(906.69 855.6) scale(0.96 1)" font-size="23.28" font-weight="bold" textLength="50.76" lengthAdjust="spacing">5<tspan font-size="76%" dy="-1.1">×</tspan><tspan dy="1.1">10</tspan></text>
<text id="d_y5e" transform="translate(959.58 847.2) scale(0.96 1)" font-size="14.86" font-weight="bold" textLength="13.33" lengthAdjust="spacing">-7</text>
<text id="d_y6" transform="translate(957.39 913.8) scale(0.96 1)" font-size="23.28" font-weight="bold" textLength="13.09" lengthAdjust="spacing">0</text>
<text id="d_x0" transform="translate(976.76 940) scale(0.96 1)" font-size="24.43" font-weight="bold" textLength="11.06" lengthAdjust="spacing">0</text>
<text id="d_x20" transform="translate(1148.33 940) scale(0.96 1)" font-size="24.43" font-weight="bold" textLength="25" lengthAdjust="spacing">20</text>
<text id="d_x40" transform="translate(1326.16 940) scale(0.96 1)" font-size="24.43" font-weight="bold" textLength="24.28" lengthAdjust="spacing">40</text>
<text id="d_xl" transform="translate(1115.62 974.69)" font-size="23.55" font-weight="bold" textLength="179.59" lengthAdjust="spacingAndGlyphs">Frequency (Hz)</text>
<text id="d_yl" transform="translate(872 797.16) rotate(-90)" font-size="27.4" font-weight="bold" textLength="73.78" lengthAdjust="spacingAndGlyphs">Power</text>
<text id="d_mpp" transform="translate(1274 751)" font-size="28.79" fill="#111" textLength="142.38" lengthAdjust="spacingAndGlyphs">MPP = 55%</text>
<text id="d_lg1" transform="translate(1543.91 641.2)" font-size="27.53" fill="#111" textLength="85.19" lengthAdjust="spacingAndGlyphs">0-45 Hz</text>
<text id="d_lg2" transform="translate(1544.84 681)" font-size="27.53" fill="#111" textLength="96.73" lengthAdjust="spacingAndGlyphs">10-30 Hz</text>
</svg>
</body></html>
